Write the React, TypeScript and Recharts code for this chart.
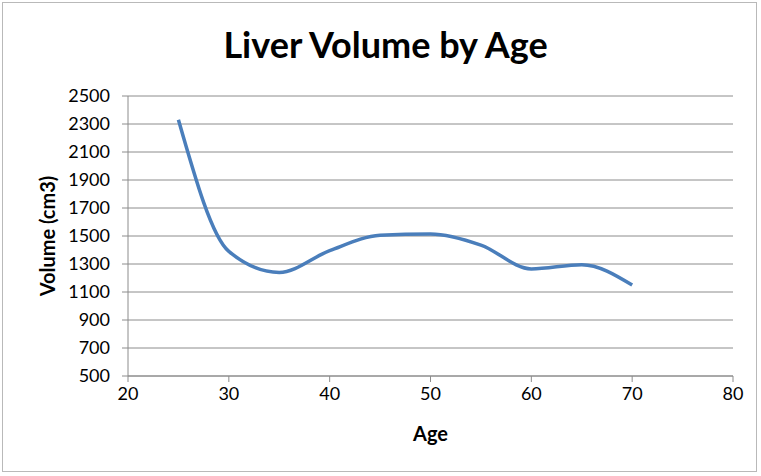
import React from "react";
import { LineChart, Line, XAxis, YAxis, CartesianGrid, Label } from "recharts";

const ages = [25, 30, 35, 40, 45, 50, 55, 60, 65, 70];
const volumes = [2330, 1390, 1240, 1395, 1505, 1515, 1435, 1265, 1295, 1150];
const xTicks = [20, 30, 40, 50, 60, 70, 80];
const yTicks = [500, 700, 900, 1100, 1300, 1500, 1700, 1900, 2100, 2300, 2500];

const data = ages.map((a, i) => ({ age: a, volume: volumes[i] }));

const FONT = "Lato, 'Open Sans', 'DejaVu Sans', sans-serif";

export default function App() {
  return (
    <div
      style={{
        position: "fixed",
        left: 0,
        top: 0,
        width: 761,
        height: 476,
        background: "#fff",
        fontFamily: FONT,
      }}
    >
      <div
        style={{
          position: "absolute",
          left: 2,
          top: 2,
          width: 755,
          height: 470,
          border: "1px solid #b9b9b9",
          boxSizing: "border-box",
        }}
      />
      <div
        style={{
          position: "absolute",
          left: 0,
          top: 22,
          width: 771,
          textAlign: "center",
          fontSize: 36,
          fontWeight: 700,
          color: "#000",
          lineHeight: "44px",
        }}
      >
        Liver Volume by Age
      </div>
      <div style={{ position: "absolute", left: 0, top: 0 }}>
        <LineChart
          width={761}
          height={476}
          data={data}
          margin={{ top: 96, right: 28, bottom: 0, left: 68 }}
        >
          <CartesianGrid vertical={false} stroke="#8c8c8c" strokeWidth={1} />
          <XAxis
            dataKey="age"
            type="number"
            domain={[20, 80]}
            ticks={xTicks}
            interval={0}
            tickSize={6}
            tickMargin={5}
            stroke="#8c8c8c"
            tick={{ fill: "#000", fontSize: 18, fontFamily: FONT }}
            height={100}
          >
            <Label
              value="Age"
              position="insideTop"
              offset={51}
              style={{ fill: "#000", fontSize: 20, fontWeight: 700, fontFamily: FONT }}
            />
          </XAxis>
          <YAxis
            type="number"
            domain={[500, 2500]}
            ticks={yTicks}
            interval={0}
            width={60}
            tickSize={6}
            tickMargin={12}
            stroke="#8c8c8c"
            tick={{ fill: "#000", fontSize: 18, fontFamily: FONT }}
          >
            <Label
              value="Volume (cm3)"
              angle={-90}
              position="insideLeft"
              offset={-20}
              style={{
                fill: "#000",
                fontSize: 20,
                fontWeight: 700,
                fontFamily: FONT,
                textAnchor: "middle",
              }}
            />
          </YAxis>
          <Line
            type="monotone"
            dataKey="volume"
            stroke="#4a7ebb"
            strokeWidth={3.5}
            dot={false}
            activeDot={false}
            isAnimationActive={false}
          />
        </LineChart>
      </div>
    </div>
  );
}
